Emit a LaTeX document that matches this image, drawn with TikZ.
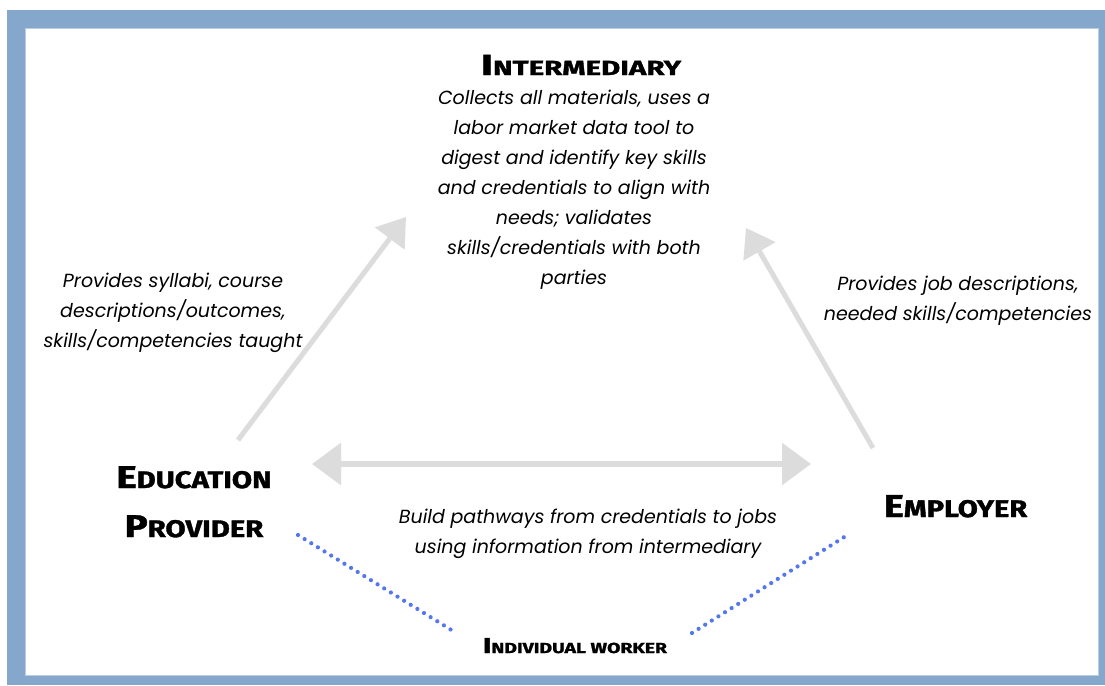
\documentclass[tikz,border=0pt]{standalone}
\usepackage{fontspec}
\usepackage{graphicx}
\setmainfont{Poppins}
\newfontfamily\headfont{Fira Sans}[BoldFeatures={FakeBold=1.3}]
\usetikzlibrary{arrows.meta}
\definecolor{framec}{HTML}{84A7CB}
\definecolor{frameedge}{HTML}{B8CCE4}
\definecolor{arrowc}{HTML}{DCDCDC}
\definecolor{dotc}{HTML}{5577EE}
\newcommand{\hsc}[5]{\scalebox{#5}[1]{{\fontsize{#3}{#3}\selectfont #1}{\fontsize{#4}{#4}\selectfont #2}}}
\tikzset{
  desc/.style={font=\itshape\fontsize{19}{30}\selectfont, align=center, inner sep=0pt, anchor=north},
  head/.style={font=\headfont\bfseries, inner sep=0pt},
  flow/.style={draw=arrowc, line width=5pt, -{Triangle[width=36pt,length=27pt]}},
  both/.style={draw=arrowc, line width=6pt, {Triangle[width=41pt,length=29pt]}-{Triangle[width=41pt,length=29pt]}},
  dots/.style={draw=dotc, line width=4.2pt, line cap=round, dash pattern=on 0pt off 7.8pt},
}
\begin{document}
\begin{tikzpicture}[x=1pt,y=-1pt]
\useasboundingbox (0,0) rectangle (1105,685);
% frame
\fill[framec] (7,10) rectangle (1105,685);
\fill[white] (25,28) rectangle (1099,676);
\draw[frameedge, line width=1pt] (25.5,28.5) rectangle (1098.5,675.5);

% headings
\node[head, anchor=base] (inter) at (581,75) {\hsc{I}{NTERMEDIARY}{29}{20.5}{1.44}};
\node[head, align=center, anchor=north, font=\headfont\bfseries\fontsize{31}{49}\selectfont] (edu) at (194,466)
  {\hsc{E}{DUCATION}{31.5}{24}{1.22}\\\hsc{P}{ROVIDER}{31.5}{24}{1.22}};
\node[head, anchor=base] (emp) at (955.5,517) {\hsc{E}{MPLOYER}{31.5}{24}{1.21}};
\node[head, anchor=base] (worker) at (575,653) {\hsc{I}{NDIVIDUAL WORKER}{21.5}{14.5}{1.34}};

% descriptions
\node[desc] (interdesc) at (574,90) {Collects all materials, uses a\\labor market data tool to\\digest and identify key skills\\and credentials to align with\\needs; validates\\skills/credentials with both\\parties};
\node[desc] (edudesc) at (173,273) {Provides syllabi, course\\descriptions/outcomes,\\skills/competencies taught};
\node[desc] (empdesc) at (958,276) {Provides job descriptions,\\needed skills/competencies};
\node[desc] (pathdesc) at (588,509) {Build pathways from credentials to jobs\\using information from intermediary};

% connectors
\coordinate (eduTail) at (238,440);
\coordinate (interL) at (406,217);
\coordinate (empTail) at (873,448);
\coordinate (interR) at (746,228);
\coordinate (eduR) at (312,464);
\coordinate (empL) at (811,464);
\coordinate (eduDot) at (298,535);
\coordinate (workL) at (453,631);
\coordinate (workR) at (692,633);
\coordinate (empDot) at (849,534);

\draw[flow] (eduTail) -- (interL);
\draw[flow] (empTail) -- (interR);
\draw[both] (eduR) -- (empL);
\draw[dots] (eduDot) -- (workL);
\draw[dots] (workR) -- (empDot);
\end{tikzpicture}
\end{document}
